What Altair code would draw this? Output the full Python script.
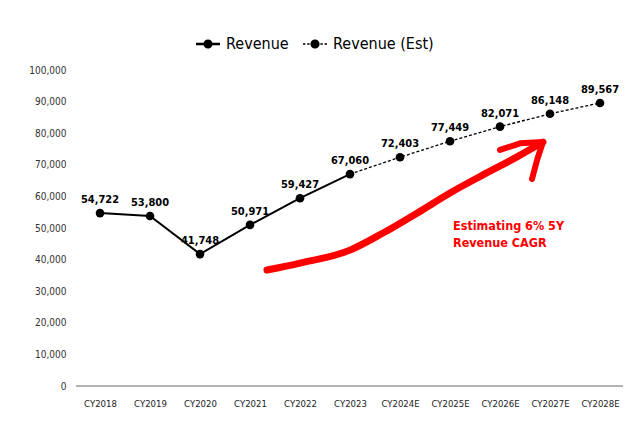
import altair as alt
import pandas as pd

years = ["CY2018", "CY2019", "CY2020", "CY2021", "CY2022", "CY2023",
         "CY2024E", "CY2025E", "CY2026E", "CY2027E", "CY2028E"]
revenue = [54722, 53800, 41748, 50971, 59427, 67060,
           72403, 77449, 82071, 86148, 89567]
series_names = ["Revenue", "Revenue (Est)"]
actual_idx = [0, 1, 2, 3, 4, 5]
est_idx = [5, 6, 7, 8, 9, 10]

# hand-drawn red arrow (x in category index units, y in revenue units)
arrow_body_x = [3.34, 4.0, 5.0, 5.66, 6.34, 7.0, 7.66, 8.34, 8.86]
arrow_body_y = [36700, 38900, 43000, 48400, 54700, 61100, 66800, 72500, 77200]
arrow_head_x = [8.0, 8.4, 8.86, 8.75, 8.64]
arrow_head_y = [74700, 76800, 77200, 72000, 65500]
note_text = ["Estimating 6% 5Y", "Revenue CAGR"]
note_x = [7.06]
note_y = [50500]

FONT = "'DejaVu Sans Condensed', Roboto, sans-serif"

rows = []
for i in actual_idx:
    rows.append({"idx": i, "year": years[i], "rev": revenue[i], "series": series_names[0]})
for i in est_idx:
    rows.append({"idx": i, "year": years[i], "rev": revenue[i], "series": series_names[1]})
df_lines = pd.DataFrame(rows)
df_pts = pd.DataFrame({"idx": list(range(len(years))), "year": years, "rev": revenue,
                       "series": [series_names[0] if i <= 5 else series_names[1] for i in range(len(years))]})
df_pts["label"] = [f"{v:,}" for v in revenue]

df_body = pd.DataFrame({"idx": arrow_body_x, "rev": arrow_body_y, "o": list(range(len(arrow_body_x)))})
df_head = pd.DataFrame({"idx": arrow_head_x, "rev": arrow_head_y, "o": list(range(len(arrow_head_x)))})
df_note = pd.DataFrame({"idx": note_x, "rev": note_y, "t": [note_text]})

label_expr = "[" + ",".join(f"'{y}'" for y in years) + "][datum.value]"

xscale = alt.Scale(domain=[-0.5, 10.5], nice=False, zero=False)
yscale = alt.Scale(domain=[0, 100000], nice=False)

x_axis = alt.Axis(values=list(range(len(years))), labelExpr=label_expr, title=None,
                  grid=False, ticks=False, domain=False, labelFont=FONT, labelFontSize=9.5,
                  labelColor="#222", labelPadding=12)
y_axis = alt.Axis(values=list(range(0, 100001, 10000)), labelExpr="format(datum.value, ',.0f')",
                  title=None, grid=False,
                  ticks=False, domain=False, labelFont=FONT, labelFontSize=10,
                  labelColor="#333", labelPadding=9)

X = alt.X("idx:Q", scale=xscale, axis=x_axis)
Y = alt.Y("rev:Q", scale=yscale, axis=y_axis)

actual = alt.Chart(df_lines[df_lines.series == series_names[0]]).mark_line(
    color="black", strokeWidth=2).encode(x=X, y=Y, order="idx:Q")
est = alt.Chart(df_lines[df_lines.series == series_names[1]]).mark_line(
    color="black", strokeWidth=1.3, strokeDash=[3, 2]).encode(x=X, y=Y, order="idx:Q")

baseline = alt.Chart(pd.DataFrame({"rev": [0]})).mark_rule(color="#666", strokeWidth=1).encode(
    y=Y, x=alt.value(1), x2=alt.value(548))

solid_path = ("M-1,-0.1 L1,-0.1 L1,0.1 L-1,0.1 Z "
              "M0.38,0 A0.38,0.38 0 1,1 -0.38,0 A0.38,0.38 0 1,1 0.38,0 Z")
dash_path = ("M-1,-0.06 L-0.8,-0.06 L-0.8,0.06 L-1,0.06 Z "
             "M-0.65,-0.06 L-0.45,-0.06 L-0.45,0.06 L-0.65,0.06 Z "
             "M0.45,-0.06 L0.65,-0.06 L0.65,0.06 L0.45,0.06 Z "
             "M0.8,-0.06 L1,-0.06 L1,0.06 L0.8,0.06 Z "
             "M0.38,0 A0.38,0.38 0 1,1 -0.38,0 A0.38,0.38 0 1,1 0.38,0 Z")

points = alt.Chart(df_pts).mark_circle(color="black", size=75, opacity=1).encode(x=X, y=Y)

legend_pts = alt.Chart(df_pts).mark_point(filled=True, color="black", size=0, opacity=0).encode(
    x=X, y=Y,
    shape=alt.Shape("series:N",
                    scale=alt.Scale(domain=series_names, range=[solid_path, dash_path]),
                    legend=alt.Legend(title=None, orient="none", direction="horizontal",
                                      legendX=121, legendY=-38, labelFont=FONT, labelFontSize=16,
                                      labelColor="black", symbolSize=576, symbolFillColor="black",
                                      symbolStrokeWidth=0, symbolOpacity=1, columnPadding=14,
                                      labelOffset=6)))

labels = alt.Chart(df_pts).mark_text(font=FONT, fontSize=11, fontWeight="bold", color="black",
                                     baseline="bottom", dy=-8).encode(x=X, y=Y, text="label:N")

arrow_body = alt.Chart(df_body).mark_line(color="#ff0000", strokeWidth=7, strokeCap="round",
                                          strokeJoin="round", interpolate="monotone").encode(
    x=X, y=Y, order="o:Q")
arrow_head = alt.Chart(df_head).mark_line(color="#ff0000", strokeWidth=6, strokeCap="round",
                                          strokeJoin="round").encode(
    x=X, y=Y, order="o:Q")
note = alt.Chart(df_note).mark_text(font=FONT, fontSize=12.5, fontWeight="bold", color="#ff0000",
                                    align="left", baseline="middle", lineHeight=17).encode(
    x=X, y=Y, text="t")

chart = alt.layer(actual, baseline, arrow_body, arrow_head, note, est, points, legend_pts, labels).properties(
    width=550, height=316,
    autosize=alt.AutoSizeParams(type="none"),
    padding={"left": 75, "top": 70, "right": 15, "bottom": 46},
    background="white",
).configure_view(stroke=None)

chart.save("out.html", embed_options={"renderer": "svg", "actions": False})
